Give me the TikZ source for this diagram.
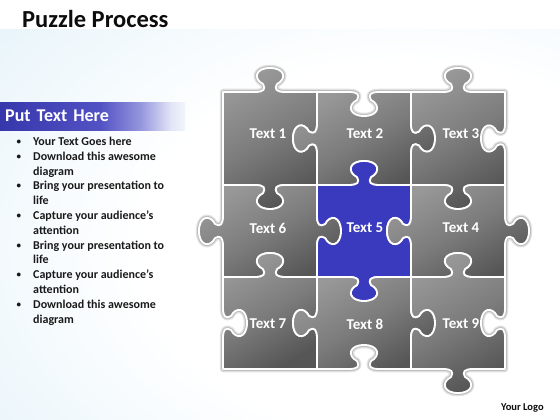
\documentclass[tikz,border=0pt]{standalone}
\usepackage{fontspec}
\setmainfont{Carlito}
\definecolor{bgblue}{RGB}{214,236,247}
\definecolor{pblue}{RGB}{58,58,190}
\definecolor{gtop}{RGB}{152,152,152}
\definecolor{gmid}{RGB}{124,124,124}
\definecolor{gbot}{RGB}{86,86,86}
\definecolor{barL}{RGB}{55,55,172}
\definecolor{barM}{RGB}{82,82,196}
\definecolor{barP}{RGB}{150,150,222}
\definecolor{barQ}{RGB}{225,228,245}
\definecolor{barR}{RGB}{240,246,251}
\pgfdeclareradialshading{bgshade}{\pgfpoint{15bp}{-4bp}}{color(0bp)=(white); color(24bp)=(white); color(60bp)=(bgblue); color(100bp)=(bgblue)}
\pgfdeclarehorizontalshading{barshade}{100bp}{color(0bp)=(barL); color(25bp)=(barL); color(52bp)=(barM); color(63bp)=(barP); color(71bp)=(barQ); color(75bp)=(barR); color(100bp)=(barR)}

% horizontal edge: centre, direction, y, bump sign, end x
\newcommand\hE[5]{%
 -- ({#1-(#2)*15},{#3})
 .. controls ({#1-(#2)*6},{#3}) and ({#1-(#2)*4},{#3+(#4)*3}) .. ({#1-(#2)*7},{#3+(#4)*8})
 .. controls ({#1-(#2)*17},{#3+(#4)*13}) and ({#1-(#2)*15},{#3+(#4)*24}) .. ({#1},{#3+(#4)*24})
 .. controls ({#1+(#2)*15},{#3+(#4)*24}) and ({#1+(#2)*17},{#3+(#4)*13}) .. ({#1+(#2)*7},{#3+(#4)*8})
 .. controls ({#1+(#2)*4},{#3+(#4)*3}) and ({#1+(#2)*6},{#3}) .. ({#1+(#2)*15},{#3})
 -- ({#5},{#3})}
% vertical edge: centre, direction, x, bump sign, end y
\newcommand\vE[5]{%
 -- ({#3},{#1-(#2)*15})
 .. controls ({#3},{#1-(#2)*6}) and ({#3+(#4)*3},{#1-(#2)*4}) .. ({#3+(#4)*8},{#1-(#2)*7})
 .. controls ({#3+(#4)*13},{#1-(#2)*17}) and ({#3+(#4)*24},{#1-(#2)*15}) .. ({#3+(#4)*24},{#1})
 .. controls ({#3+(#4)*24},{#1+(#2)*15}) and ({#3+(#4)*13},{#1+(#2)*17}) .. ({#3+(#4)*8},{#1+(#2)*7})
 .. controls ({#3+(#4)*3},{#1+(#2)*4}) and ({#3},{#1+(#2)*6}) .. ({#3},{#1+(#2)*15})
 -- ({#3},{#5})}
\newcommand\piecepath[8]{({#1},{#2}) \hE{(#1+#3)/2}{1}{#2}{#5}{#3} \vE{(#2+#4)/2}{1}{#3}{#6}{#4} \hE{(#1+#3)/2}{-1}{#4}{#7}{#1} \vE{(#2+#4)/2}{-1}{#1}{#8}{#2} -- cycle}
\def\piecelist{223/92/317/185/-1/-1/1/0/greypiece,
 317/92/411/185/1/1/-1/-1/greypiece,
 411/92/505/185/-1/-1/1/1/greypiece,
 223/185/317/277/1/1/-1/-1/greypiece,
 317/185/411/277/-1/-1/1/1/bluepiece,
 411/185/505/277/1/1/-1/-1/greypiece,
 223/277/317/369/-1/-1/0/1/greypiece,
 317/277/411/369/1/1/-1/-1/greypiece,
 411/277/505/369/-1/-1/1/1/greypiece}

\begin{document}
\begin{tikzpicture}[x=1pt,y=-1pt,
  greypiece/.style={top color=gtop, bottom color=gbot, middle color=gmid, shading angle=30, draw=white, line width=1.8pt, line join=round},
  bluepiece/.style={fill=pblue, draw=white, line width=1.8pt, line join=round},
  haloA/.style={draw=black!12, line width=6.5pt, line join=round},
  haloB/.style={draw=black!26, line width=3.8pt, line join=round},
  lbl/.style={text=white, font=\fontsize{15}{18}\selectfont\bfseries, inner sep=0},
  blt/.style={anchor=base west, inner sep=0, font=\fontsize{12}{14}\selectfont\bfseries, text=black!90},
  dot/.style={anchor=base west, inner sep=0, font=\fontsize{9}{10}\selectfont\bfseries, text=black!90}]
\useasboundingbox (0,0) rectangle (560,420);
\fill[white] (0,0) rectangle (560,420);
\fill[shading=bgshade] (0,30) rectangle (560,420);

% title
\node[anchor=base west, inner sep=0, font=\fontsize{24.5}{28}\selectfont\bfseries, text=black!95] (title) at (22,27.5) {Puzzle Process};

% side bar
\node[anchor=north west, minimum height=28pt, text width=175pt, inner xsep=5pt, inner ysep=0, align=left, shading=barshade, text=white, font=\fontsize{18}{20}\selectfont\bfseries] (bar) at (0,102) {Put Text Here};

% bullet list
\foreach \k in {0,1,3,5,7,9,11}{
  \node[dot] (b\k) at (16.5,{144.5+\k*14.8}) {•};
}
\foreach \k/\txt in {0/Your Text Goes here, 1/Download this awesome, 2/diagram, 3/Bring your presentation to, 4/life, 5/Capture your audience’s, 6/attention, 7/Bring your presentation to, 8/life, 9/Capture your audience’s, 10/attention, 11/Download this awesome, 12/diagram}{
  \node[blt] (l\k) at (33,{145.5+\k*14.8}) {\txt};
}

% puzzle shadow
\foreach \xa/\ya/\xb/\yb/\nt/\nr/\nb/\nl/\st in \piecelist{
  \path[haloA] \piecepath{\xa}{\ya}{\xb}{\yb}{\nt}{\nr}{\nb}{\nl};
}
\foreach \xa/\ya/\xb/\yb/\nt/\nr/\nb/\nl/\st in \piecelist{
  \path[haloB] \piecepath{\xa}{\ya}{\xb}{\yb}{\nt}{\nr}{\nb}{\nl};
}
% puzzle pieces
\foreach \xa/\ya/\xb/\yb/\nt/\nr/\nb/\nl/\st in \piecelist{
  \path[\st] \piecepath{\xa}{\ya}{\xb}{\yb}{\nt}{\nr}{\nb}{\nl};
}

% labels
\node[lbl] (t1) at (268,134) {Text 1};
\node[lbl] (t2) at (365,134) {Text 2};
\node[lbl] (t3) at (461,134) {Text 3};
\node[lbl] (t6) at (268,228) {Text 6};
\node[lbl] (t5) at (365,228) {Text 5};
\node[lbl] (t4) at (461,228) {Text 4};
\node[lbl] (t7) at (268,324) {Text 7};
\node[lbl] (t8) at (365,324) {Text 8};
\node[lbl] (t9) at (461,324) {Text 9};

% logo
\node[anchor=base west, inner sep=0, font=\fontsize{10.5}{12}\selectfont\bfseries, text=black!95] (logo) at (501,410) {Your Logo};
\end{tikzpicture}
\end{document}
